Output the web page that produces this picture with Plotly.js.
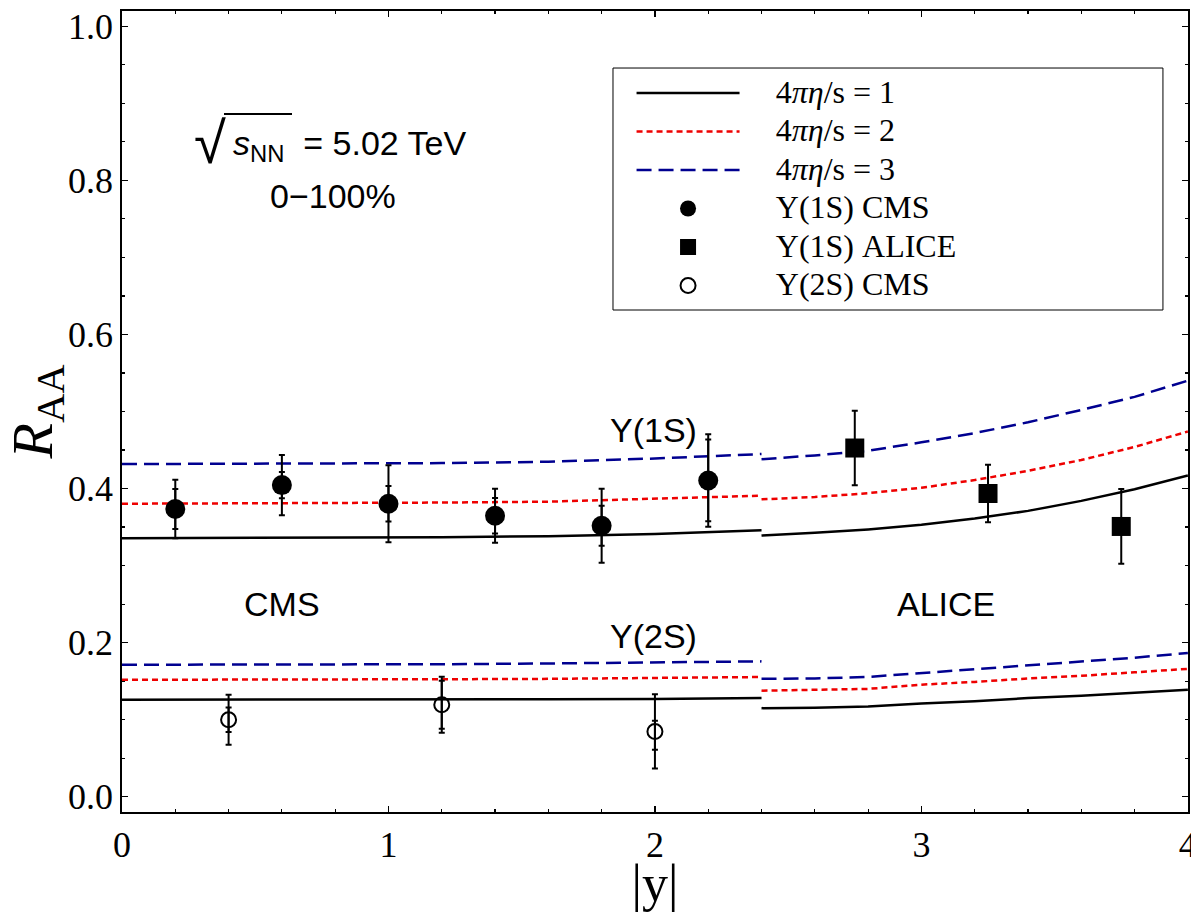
<!DOCTYPE html>
<html>
<head>
<meta charset="utf-8">
<script src="https://cdn.plot.ly/plotly-3.0.1.min.js"></script>
<style>html,body{margin:0;padding:0;background:#fff;}</style>
</head>
<body>
<div id="chart" style="width:1191px;height:912px;"></div>
<script>
// ---- theory curves: CMS rapidity range ----
var cmsX = [0, 0.4, 0.8, 1.2, 1.6, 2.0, 2.4];
var cms1S_eta1 = [0.3355, 0.3357, 0.336, 0.3368, 0.3382, 0.341, 0.3458];
var cms1S_eta2 = [0.3803, 0.3805, 0.381, 0.3818, 0.383, 0.3865, 0.3907];
var cms1S_eta3 = [0.4318, 0.4319, 0.4322, 0.433, 0.4348, 0.439, 0.4448];
var cms2S_eta1 = [0.1259, 0.1259, 0.126, 0.1262, 0.1265, 0.127, 0.128];
var cms2S_eta2 = [0.1518, 0.1518, 0.152, 0.1525, 0.153, 0.154, 0.1554];
var cms2S_eta3 = [0.1713, 0.1713, 0.1715, 0.172, 0.173, 0.1742, 0.1757];

// ---- theory curves: ALICE rapidity range ----
var aliceX = [2.4, 2.6, 2.8, 3.0, 3.2, 3.4, 3.6, 3.8, 4.0];
var alice1S_eta1 = [0.339, 0.3425, 0.347, 0.353, 0.361, 0.371, 0.384, 0.399, 0.417];
var alice1S_eta2 = [0.386, 0.389, 0.394, 0.401, 0.411, 0.423, 0.437, 0.454, 0.474];
var alice1S_eta3 = [0.438, 0.443, 0.449, 0.460, 0.472, 0.486, 0.502, 0.519, 0.540];
var alice2S_eta1 = [0.115, 0.1155, 0.117, 0.121, 0.124, 0.128, 0.131, 0.135, 0.139];
var alice2S_eta2 = [0.1377, 0.1385, 0.140, 0.1455, 0.149, 0.1535, 0.157, 0.1615, 0.166];
var alice2S_eta3 = [0.153, 0.1535, 0.1555, 0.1606, 0.165, 0.170, 0.175, 0.1805, 0.1866];

// ---- data ----
var cms1S_x = [0.2, 0.6, 1.0, 1.4, 1.8, 2.2];
var cms1S_y = [0.3734, 0.4045, 0.3803, 0.3647, 0.3517, 0.4105];
var cms1S_errTot = [0.038, 0.039, 0.050, 0.035, 0.048, 0.060];
var cms1S_errIn = [0.026, 0.017, 0.023, 0.023, 0.026, 0.053];

var alice1S_x = [2.75, 3.25, 3.75];
var alice1S_y = [0.4526, 0.3936, 0.3508];
var alice1S_err = [0.0484, 0.0372, 0.0485];

var cms2S_x = [0.4, 1.2, 2.0];
var cms2S_y = [0.0999, 0.1194, 0.0847];
var cms2S_errTot = [0.0324, 0.0363, 0.0482];
var cms2S_errInPlus = [0.0158, 0.031, 0.0139];
var cms2S_errInMinus = [0.0158, 0.031, 0.0238];

var legendNames = ["4<i>πη</i>/s = 1", "4<i>πη</i>/s = 2", "4<i>πη</i>/s = 3",
                   "Υ(1S) CMS", "Υ(1S) ALICE", "Υ(2S) CMS"];
var pad = "\u00a0\u00a0\u00a0\u00a0\u00a0";
function legendLabel(s) { return pad + "<span style='font-size:32px'>" + s + "</span>"; }

var lineStyles = [
  {color: "#000000", width: 2.5, dash: "solid"},
  {color: "#ee0000", width: 2.5, dash: "6px,4px"},
  {color: "#000090", width: 2.5, dash: "15px,7px"}
];

var traces = [];
var curveSets = [
  [cms1S_eta1, alice1S_eta1, cms2S_eta1, alice2S_eta1],
  [cms1S_eta2, alice1S_eta2, cms2S_eta2, alice2S_eta2],
  [cms1S_eta3, alice1S_eta3, cms2S_eta3, alice2S_eta3]
];
curveSets.forEach(function(set, i) {
  set.forEach(function(ys, j) {
    var xs = (j % 2 === 0) ? cmsX : aliceX;
    traces.push({
      type: "scatter", mode: "lines", x: xs, y: ys,
      line: lineStyles[i], name: legendLabel(legendNames[i]),
      legendgroup: "g" + i, showlegend: j === 0, hoverinfo: "skip"
    });
  });
});

var errStyle = {color: "#000", thickness: 2, width: 3};

traces.push({
  type: "scatter", mode: "markers", x: cms1S_x, y: cms1S_y,
  marker: {size: 1, color: "rgba(0,0,0,0)"},
  error_y: Object.assign({type: "data", array: cms1S_errIn, visible: true}, errStyle),
  legendgroup: "d0", showlegend: false
});
traces.push({
  type: "scatter", mode: "markers", x: cms1S_x, y: cms1S_y,
  marker: {symbol: "circle", size: 20, color: "#000"},
  error_y: Object.assign({type: "data", array: cms1S_errTot, visible: true}, errStyle),
  name: legendLabel(legendNames[3]), legendgroup: "d0"
});
traces.push({
  type: "scatter", mode: "markers", x: alice1S_x, y: alice1S_y,
  marker: {symbol: "square", size: 19, color: "#000"},
  error_y: Object.assign({type: "data", array: alice1S_err, visible: true}, errStyle),
  name: legendLabel(legendNames[4]), legendgroup: "d1"
});
traces.push({
  type: "scatter", mode: "markers", x: cms2S_x, y: cms2S_y,
  marker: {size: 1, color: "rgba(0,0,0,0)"},
  error_y: Object.assign({type: "data", array: cms2S_errInPlus, arrayminus: cms2S_errInMinus, symmetric: false, visible: true}, errStyle),
  legendgroup: "d2", showlegend: false
});
traces.push({
  type: "scatter", mode: "markers", x: cms2S_x, y: cms2S_y,
  marker: {symbol: "circle-open", size: 15, color: "#000", line: {width: 2, color: "#000"}},
  error_y: Object.assign({type: "data", array: cms2S_errTot, visible: true}, errStyle),
  name: legendLabel(legendNames[5]), legendgroup: "d2"
});

var serif = "Liberation Serif, Times New Roman, serif";
var sans = "Liberation Sans, Arial, Helvetica, sans-serif";

var axisCommon = {
  showline: true, linecolor: "#000", linewidth: 1.8, mirror: "ticks",
  ticks: "inside", ticklen: 6, tickwidth: 1.5, tickcolor: "#000",
  showgrid: false, zeroline: false, ticklabeloverflow: "allow",
  tickfont: {family: serif, size: 36, color: "#000"}
};

var layout = {
  width: 1191, height: 912,
  margin: {l: 122, r: 3, t: 11, b: 100},
  paper_bgcolor: "#fff", plot_bgcolor: "#fff",
  showlegend: true,
  xaxis: Object.assign({}, axisCommon, {
    range: [0, 4.0005], tick0: 0, dtick: 1,
    minor: {ticks: "inside", ticklen: 3, dtick: 0.2, tick0: 0, tickcolor: "#000", tickwidth: 1.2},
    title: {text: "|y|", font: {family: serif, size: 52, color: "#000"}, standoff: 14}
  }),
  yaxis: Object.assign({}, axisCommon, {
    range: [-0.0198, 1.0198], tick0: 0, dtick: 0.2, tickformat: ".1f",
    minor: {ticks: "inside", ticklen: 3, dtick: 0.05, tick0: 0, tickcolor: "#000", tickwidth: 1.2},
    title: {text: "<i>R</i><sub>AA</sub>", font: {family: serif, size: 58, color: "#000"}, standoff: 10}
  }),
  legend: {
    x: 0.478, xanchor: "left", y: 0.926, yanchor: "top",
    bgcolor: "rgba(0,0,0,0)", borderwidth: 0,
    font: {family: serif, size: 25, color: "#000"},
    itemwidth: 103, tracegroupgap: 3, itemclick: false, itemdoubleclick: false
  },
  shapes: [
    {type: "rect", xref: "paper", yref: "paper", x0: 0.4606, x1: 0.9765, y0: 0.6267, y1: 0.9288,
     line: {color: "#000", width: 1}},
    {type: "line", xref: "paper", yref: "paper", x0: (224 - 122) / 1066, x1: (292 - 122) / 1066,
     y0: 1 - (114 - 11) / 801, y1: 1 - (114 - 11) / 801, line: {color: "#000", width: 2}}
  ],
  annotations: [
    {xref: "paper", yref: "paper", x: (210 - 122) / 1066, y: 1 - (143 - 11) / 801, text: "√",
     showarrow: false, font: {family: sans, size: 58, color: "#000"}, xanchor: "center", yanchor: "middle"},
    {xref: "paper", yref: "paper", x: (231 - 122) / 1066, y: 1 - (146 - 11) / 801,
     text: "<i>s</i><sub>NN</sub>\u00a0\u00a0= 5.02 TeV",
     showarrow: false, font: {family: sans, size: 34, color: "#000"}, xanchor: "left", yanchor: "middle"},
    {xref: "x", yref: "y", x: 0.792, y: 0.780, text: "0−100%", showarrow: false,
     font: {family: sans, size: 34, color: "#000"}},
    {xref: "x", yref: "y", x: 1.996, y: 0.476, text: "Υ(1S)", showarrow: false,
     font: {family: sans, size: 34, color: "#000"}},
    {xref: "x", yref: "y", x: 1.996, y: 0.209, text: "Υ(2S)", showarrow: false,
     font: {family: sans, size: 34, color: "#000"}},
    {xref: "x", yref: "y", x: 0.600, y: 0.250, text: "CMS", showarrow: false,
     font: {family: sans, size: 34, color: "#000"}},
    {xref: "x", yref: "y", x: 3.092, y: 0.250, text: "ALICE", showarrow: false,
     font: {family: sans, size: 34, color: "#000"}}
  ]
};

Plotly.newPlot("chart", traces, layout, {displayModeBar: false, staticPlot: true});
</script>
</body>
</html>
